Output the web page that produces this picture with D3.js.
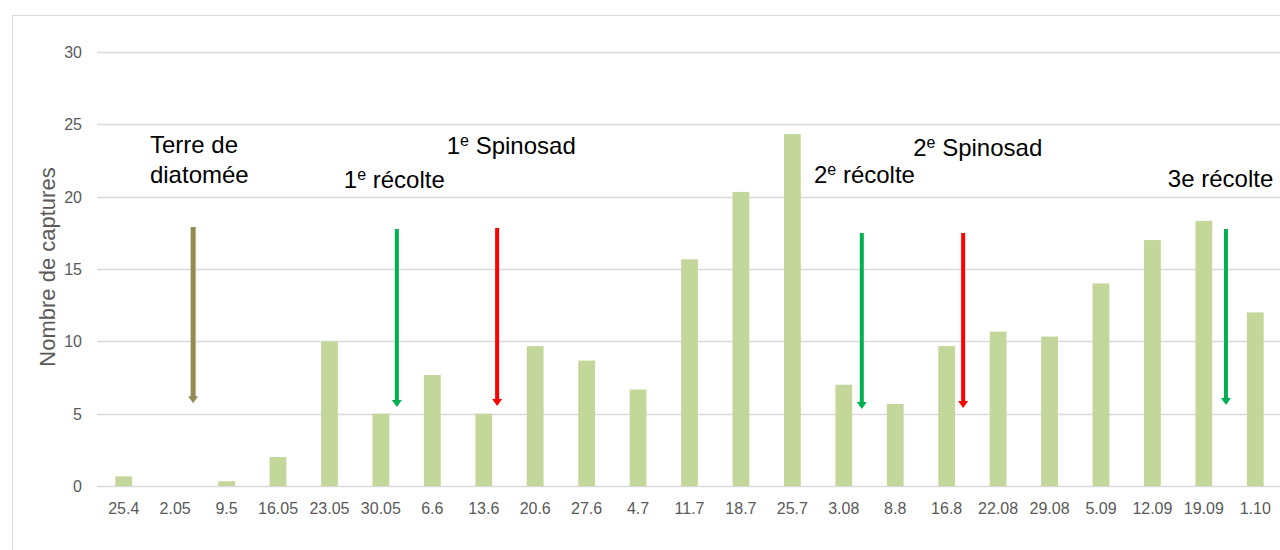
<!DOCTYPE html>
<html>
<head>
<meta charset="utf-8">
<script src="https://cdn.jsdelivr.net/npm/d3@7"></script>
<style>
  body { margin: 0; background: #fff; }
  svg { display: block; }
  .tick-label { font-family: "Liberation Sans", Arial, sans-serif; font-size: 16px; fill: #595959; }
  .note { font-family: "Liberation Sans", Arial, sans-serif; font-size: 24px; fill: #000; }
</style>
</head>
<body>
<svg width="1280" height="550"></svg>
<script>
// sampling dates
const dates = ['25.4','2.05','9.5','16.05','23.05','30.05','6.6','13.6','20.6','27.6','4.7','11.7',
  '18.7','25.7','3.08','8.8','16.8','22.08','29.08','5.09','12.09','19.09','1.10'];

// mean number of captures
const captures = [0.67, 0, 0.33, 2, 10, 5, 7.67, 5, 9.67, 8.67, 6.67, 15.67,
  20.33, 24.33, 7, 5.67, 9.67, 10.67, 10.33, 14, 17, 18.33, 12];

const yTicks = [0, 5, 10, 15, 20, 25, 30];

// treatment arrows (position in date slots, from / to in captures units)
const arrowAt   = [1.35, 5.31, 7.26, 14.35, 16.32, 21.43];
const arrowFrom = [17.9, 17.76, 17.83, 17.49, 17.49, 17.76];
const arrowTo   = [5.72, 5.46, 5.53, 5.32, 5.39, 5.6];
const arrowCol  = ['#948a54', '#00b050', '#ff0000', '#00b050', '#ff0000', '#00b050'];

// annotation texts: [main, superscript, rest]
const noteText = [['Terre de', '', ''], ['diatomée', '', ''], ['1', 'e', ' récolte'], ['1', 'e', ' Spinosad'],
  ['2', 'e', ' récolte'], ['2', 'e', ' Spinosad'], ['3e récolte', '', '']];
const noteAt  = [0.51, 0.51, 4.28, 6.28, 13.42, 15.35, 20.3];
const noteVal = [23.0, 20.94, 20.6, 22.94, 20.94, 22.8, 20.68];

const svg = d3.select("svg");

// chart frame
svg.append("rect")
  .attr("x", 12.5).attr("y", 15.5)
  .attr("width", 1300).attr("height", 600)
  .attr("fill", "none")
  .attr("stroke", "#d9d9d9");

const x = d3.scaleBand()
  .domain(dates)
  .range([98, 1281])
  .paddingInner(0.673)
  .paddingOuter(0.3365);

const y = d3.scaleLinear()
  .domain([0, 30])
  .range([486, 52]);

function slotX(p) {
  return x(dates[0]) + x.bandwidth() / 2 + p * x.step();
}

// gridlines
svg.append("g")
  .selectAll("line")
  .data(yTicks)
  .enter().append("line")
  .attr("x1", 97)
  .attr("x2", 1280)
  .attr("y1", d => Math.round(y(d)) + 0.5)
  .attr("y2", d => Math.round(y(d)) + 0.5)
  .attr("stroke", "#d9d9d9")
  .attr("stroke-width", 1.3);

// y tick labels
svg.append("g")
  .selectAll("text")
  .data(yTicks)
  .enter().append("text")
  .attr("class", "tick-label")
  .attr("x", 82)
  .attr("y", d => y(d) + 6)
  .attr("text-anchor", "end")
  .text(d => d);

// x tick labels
svg.append("g")
  .selectAll("text")
  .data(dates)
  .enter().append("text")
  .attr("class", "tick-label")
  .attr("x", d => x(d) + x.bandwidth() / 2)
  .attr("y", 514)
  .attr("text-anchor", "middle")
  .text(d => d);

// y axis title
svg.append("text")
  .attr("transform", "translate(55,267) rotate(-90)")
  .attr("text-anchor", "middle")
  .style("font-family", '"Liberation Sans", Arial, sans-serif')
  .style("font-size", "22px")
  .attr("fill", "#595959")
  .text("Nombre de captures");

// bars
svg.append("g")
  .selectAll("rect")
  .data(captures)
  .enter().append("rect")
  .attr("x", (d, i) => x(dates[i]))
  .attr("width", x.bandwidth())
  .attr("y", d => y(d))
  .attr("height", d => y(0) - y(d))
  .attr("fill", "#c4d79b");

// arrows
const arrows = svg.append("g")
  .selectAll("g")
  .data(arrowAt)
  .enter().append("g");

arrows.append("line")
  .attr("x1", d => slotX(d))
  .attr("x2", d => slotX(d))
  .attr("y1", (d, i) => y(arrowFrom[i]))
  .attr("y2", (d, i) => y(arrowTo[i]) - 5)
  .attr("stroke", (d, i) => arrowCol[i])
  .attr("stroke-width", (d, i) => i === 0 ? 5 : 4);

arrows.append("path")
  .attr("d", (d, i) => {
    const cx = slotX(d), ty = y(arrowTo[i]);
    return `M${cx - 5},${ty - 7}L${cx + 5},${ty - 7}L${cx},${ty}Z`;
  })
  .attr("fill", (d, i) => arrowCol[i]);

// annotations
const notes = svg.append("g")
  .selectAll("text")
  .data(noteText)
  .enter().append("text")
  .attr("class", "note")
  .attr("x", (d, i) => slotX(noteAt[i]))
  .attr("y", (d, i) => y(noteVal[i]));

notes.append("tspan").text(d => d[0]);
notes.filter(d => d[1] !== '')
  .append("tspan")
  .attr("dy", -8)
  .style("font-size", "16px")
  .text(d => d[1]);
notes.filter(d => d[2] !== '')
  .append("tspan")
  .attr("dy", 8)
  .text(d => d[2]);
</script>
</body>
</html>
